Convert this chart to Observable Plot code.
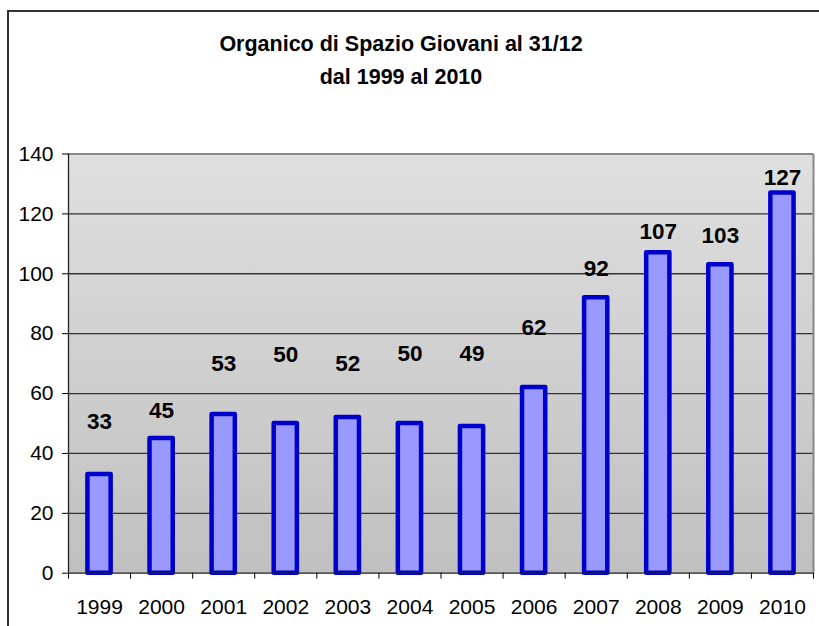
<!DOCTYPE html>
<html><head><meta charset="utf-8">
<script src="https://cdn.jsdelivr.net/npm/d3@7"></script>
<script src="https://cdn.jsdelivr.net/npm/@observablehq/plot@0.6"></script>
<style>
body{margin:0;background:#fff;}
#wrap{position:relative;width:819px;height:626px;overflow:hidden;background:#fff;font-family:"Liberation Sans",Arial,sans-serif;}
#frame{position:absolute;left:7px;top:10px;width:1000px;height:1000px;border:2px solid #333;box-sizing:border-box;}
#title{position:absolute;left:0;top:28px;width:802px;text-align:center;font-weight:bold;font-size:21.5px;line-height:33px;color:#000;}
#chart{position:absolute;left:0;top:100px;}
</style></head><body>
<div id="wrap"><div id="frame"></div><div id="title">Organico di Spazio Giovani al 31/12<br>dal 1999 al 2010</div><div id="chart"></div></div>
<script>
// ---- data ----
const years = [1999, 2000, 2001, 2002, 2003, 2004, 2005, 2006, 2007, 2008, 2009, 2010];
const values = [33, 45, 53, 50, 52, 50, 49, 62, 92, 107, 103, 127];
// label lift above bar top (in value units), as placed in the original
const labelLift = [17.4, 9.3, 17, 23, 18.1, 23.4, 24.4, 19.8, 9.7, 7, 9.7, 5.2];
const yTicks = [0, 20, 40, 60, 80, 100, 120, 140];

const data = years.map((y, i) => ({year: y, value: values[i], lift: labelLift[i]}));
const xMin = years[0] - 0.5, xMax = years[years.length - 1] + 0.5;
const boundaries = years.map(y => y - 0.5).concat([xMax]);
const half = 0.187;

const chart = Plot.plot({
  width: 819, height: 526,
  marginLeft: 68, marginRight: 6, marginTop: 53.5, marginBottom: 53.3,
  style: {fontFamily: "'Liberation Sans', Arial, sans-serif", fontSize: "21px", color: "#000", background: "transparent"},
  x: {domain: [xMin, xMax], axis: null},
  y: {domain: [0, 140], axis: null},
  marks: [
    Plot.frame({fill: "url(#bg)", stroke: "none"}),
    Plot.ruleY(yTicks.filter(t => t > 0 && t < 140), {stroke: "#333", strokeWidth: 1.3}),
    Plot.ruleY([140], {stroke: "#888", strokeWidth: 2}),
    Plot.ruleX([xMax], {stroke: "#888", strokeWidth: 2}),
    Plot.rectY(data, {x1: d => d.year - half, x2: d => d.year + half, y1: 0, y2: "value",
      fill: "#9999FF", stroke: "#0000CC", strokeWidth: 4.5, strokeLinejoin: "round"}),
    Plot.ruleX([xMin], {stroke: "#222", strokeWidth: 1.3}),
    Plot.ruleY([0], {stroke: "#222", strokeWidth: 1.3}),
    Plot.axisY({ticks: yTicks, tickSize: 6, tickPadding: 9, fontSize: 21, label: null, tickFormat: d => String(d)}),
    Plot.axisX({ticks: boundaries, tickSize: 6, tickFormat: () => "", label: null}),
    Plot.axisX({ticks: years, tickSize: 0, tickPadding: 26, fontSize: 21, label: null, tickFormat: d => String(d)}),
    Plot.text(data, {x: "year", y: d => d.value + d.lift, text: d => String(d.value),
      fontSize: 22.5, fontWeight: "bold", fill: "#000", lineAnchor: "middle"})
  ]
});

const svg = d3.select(chart);
const defs = svg.insert("defs", ":first-child");
const g = defs.append("linearGradient").attr("id", "bg").attr("x1", 0).attr("y1", 0).attr("x2", 0).attr("y2", 1);
g.append("stop").attr("offset", "0%").attr("stop-color", "#dfdfdf");
g.append("stop").attr("offset", "100%").attr("stop-color", "#c0c0c0");
document.getElementById("chart").appendChild(chart);
</script>
</body></html>
